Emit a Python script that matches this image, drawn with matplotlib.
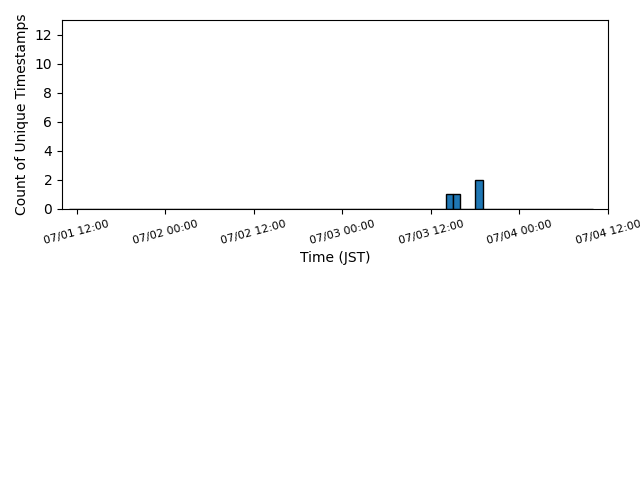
import pandas as pd
import matplotlib
matplotlib.use('Agg')
import matplotlib.pyplot as plt
import matplotlib.dates as mdates
from matplotlib.ticker import MaxNLocator

# hourly bins, first bin starts 07/01 11:00 JST
first_bin = '2024-07-01 11:00'
counts_0701 = [0, 0, 0, 0, 0, 0, 0, 0, 0, 0, 0, 0, 0]  # 11:00 - 23:00
counts_0702 = [0] * 24
counts_0703 = [0, 0, 0, 0, 0, 0, 0, 0, 0, 0, 0, 0, 0, 0,
               1, 1, 0, 0, 2, 0, 0, 0, 0, 0]
counts_0704 = [0, 0, 0, 0, 0, 0, 0, 0, 0, 0]  # 00:00 - 09:00

counts = counts_0701 + counts_0702 + counts_0703 + counts_0704
times = pd.date_range(first_bin, periods=len(counts), freq='h')

fig, ax = plt.subplots(figsize=(6.4, 4.8))
fig.subplots_adjust(left=0.097, right=0.95, top=0.958, bottom=0.565)

ax.bar(times, counts, width=1 / 24, align='edge', color='#1f77b4', edgecolor='black')

ax.set_xlim(pd.Timestamp('2024-07-01 10:00'), pd.Timestamp('2024-07-04 12:00'))
ax.set_ylim(0, 13)
ax.yaxis.set_major_locator(MaxNLocator(integer=True))
ax.xaxis.set_major_locator(mdates.HourLocator(byhour=[0, 12]))
ax.xaxis.set_major_formatter(mdates.DateFormatter('%m/%d %H:%M'))
plt.setp(ax.get_xticklabels(), rotation=15, fontsize=8)

ax.set_xlabel('Time (JST)')
ax.set_ylabel('Count of Unique Timestamps')

plt.savefig('out.png')
